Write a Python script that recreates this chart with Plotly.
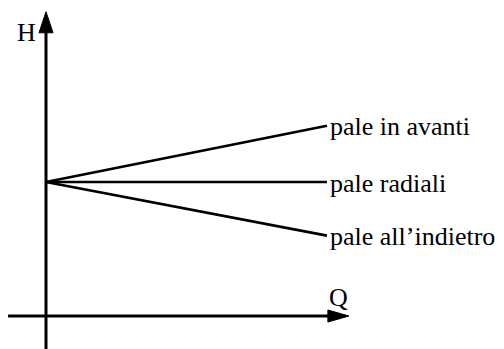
import plotly.graph_objects as go

# Schematic H-Q characteristics (conceptual units: Q along x, H along y)
Q = [0.0, 1.0]
H_avanti = [1.0, 1.42]
H_radiali = [1.0, 1.0]
H_indietro = [1.0, 0.60]
labels = ["pale in avanti", "pale radiali", "pale all\u2019indietro"]
series = [H_avanti, H_radiali, H_indietro]

# axis extents (conceptual units)
Q_axis = [-0.135, 1.078]
H_axis = [-0.25, 2.27]

W, Hpx = 504, 349
x_range = [-0.1637, 1.63]
y_range = [-0.246, 2.358]

font = dict(family="Liberation Serif, Times New Roman, serif", size=26, color="black")

fig = go.Figure()

# characteristic lines
for h in series:
    fig.add_trace(go.Scatter(x=Q, y=h, mode="lines",
                             line=dict(color="black", width=2.7),
                             hoverinfo="skip", showlegend=False))

# axes lines
fig.add_trace(go.Scatter(x=[0, 0], y=[H_axis[0], H_axis[1] - 0.13], mode="lines",
                         line=dict(color="black", width=3), showlegend=False, hoverinfo="skip"))
fig.add_trace(go.Scatter(x=[Q_axis[0], Q_axis[1] - 0.06], y=[0, 0], mode="lines",
                         line=dict(color="black", width=3), showlegend=False, hoverinfo="skip"))

shapes = [
    # vertical arrow head
    dict(type="path", xref="x", yref="y", xsizemode="pixel", ysizemode="pixel",
         xanchor=0, yanchor=H_axis[1], path="M 0 0 L -7 -21 L 7 -21 Z",
         fillcolor="black", line=dict(color="black", width=1)),
    # horizontal arrow head
    dict(type="path", xref="x", yref="y", xsizemode="pixel", ysizemode="pixel",
         xanchor=Q_axis[1], yanchor=0, path="M 0 0 L -21 -6 L -21 6 Z",
         fillcolor="black", line=dict(color="black", width=1)),
]

annotations = []
for lab, h in zip(labels, series):
    annotations.append(dict(x=Q[-1], y=h[-1], xref="x", yref="y", text=lab,
                            showarrow=False, xanchor="left", yanchor="middle",
                            xshift=1, yshift=-1, font=font))
annotations.append(dict(x=0, y=H_axis[1], xref="x", yref="y", text="H", showarrow=False,
                        xanchor="center", yanchor="middle", xshift=-20, yshift=-21, font=font))
annotations.append(dict(x=Q_axis[1], y=0, xref="x", yref="y", text="Q", showarrow=False,
                        xanchor="center", yanchor="middle", xshift=-10, yshift=19, font=font))

fig.update_layout(
    width=W, height=Hpx,
    margin=dict(l=0, r=0, t=0, b=0),
    paper_bgcolor="white", plot_bgcolor="white",
    xaxis=dict(range=x_range, visible=False, fixedrange=True),
    yaxis=dict(range=y_range, visible=False, fixedrange=True),
    shapes=shapes, annotations=annotations, showlegend=False,
)

fig.write_html("out.html", config={"displayModeBar": False},
               post_script="document.body.style.margin='0';document.body.style.overflow='hidden';")
